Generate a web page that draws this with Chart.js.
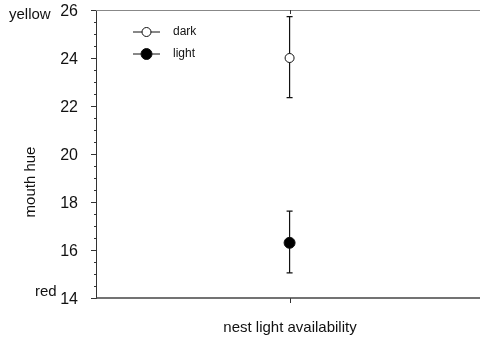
<!DOCTYPE html>
<html>
<head>
<meta charset="utf-8">
<script src="https://cdn.jsdelivr.net/npm/chart.js@4"></script>
<style>
  body { margin: 0; background: #fff; }
  #wrap { width: 480px; height: 343px; position: relative; }
</style>
</head>
<body>
<div id="wrap"><canvas id="chart"></canvas></div>
<script>
// values
const groups = ['dark', 'light'];
const xPos = [1, 1];
const means = [24.0, 16.3];
const errLow = [22.35, 15.05];
const errHigh = [25.72, 17.62];
const yMin = 14, yMax = 26;
const minorStep = 0.5;
const xTickValues = [1];

const FONT = 'Arial, "Liberation Sans", sans-serif';

// error bars, minor ticks, legend and side labels
const extras = {
    id: 'extras',
    beforeDatasetsDraw(chart) {
        const ctx = chart.ctx;
        const x = chart.scales.x, y = chart.scales.y;
        const area = chart.chartArea;
        ctx.save();
        ctx.strokeStyle = '#111';
        ctx.lineWidth = 1.2;
        for (let i = 0; i < groups.length; i++) {
            const px = x.getPixelForValue(xPos[i]);
            const top = y.getPixelForValue(errHigh[i]);
            const bot = y.getPixelForValue(errLow[i]);
            ctx.beginPath();
            ctx.moveTo(px, top); ctx.lineTo(px, bot);
            ctx.moveTo(px - 3, top); ctx.lineTo(px + 3, top);
            ctx.moveTo(px - 3, bot); ctx.lineTo(px + 3, bot);
            ctx.stroke();
        }
        // top frame line
        ctx.strokeStyle = '#888';
        ctx.lineWidth = 1;
        ctx.beginPath();
        ctx.moveTo(area.left, area.top + 0.5);
        ctx.lineTo(480, area.top + 0.5);
        ctx.stroke();
        // y ticks (major outward, minor short)
        ctx.strokeStyle = '#333';
        for (let v = yMin; v <= yMax + 1e-9; v += minorStep) {
            const py = Math.round(y.getPixelForValue(v)) + 0.5;
            const major = Math.abs(v % 2) < 1e-9;
            ctx.beginPath();
            ctx.moveTo(area.left - (major ? 5 : 2), py);
            ctx.lineTo(area.left, py);
            ctx.stroke();
        }
        // x ticks
        xTickValues.forEach(v => {
            const px = Math.round(x.getPixelForValue(v)) + 0.5;
            ctx.beginPath();
            ctx.moveTo(px, area.bottom); ctx.lineTo(px, area.bottom + 5);
            ctx.moveTo(px, area.top); ctx.lineTo(px, area.top + 4);
            ctx.stroke();
        });
        // bottom axis line to the edge
        ctx.strokeStyle = '#444';
        ctx.lineWidth = 1.5;
        ctx.beginPath();
        ctx.moveTo(area.left, area.bottom);
        ctx.lineTo(480, area.bottom);
        ctx.stroke();
        ctx.restore();
    },
    afterDraw(chart) {
        const ctx = chart.ctx;
        const y = chart.scales.y;
        ctx.save();
        ctx.fillStyle = '#111';
        ctx.textBaseline = 'middle';
        // side labels
        ctx.font = '15px ' + FONT;
        ctx.textAlign = 'left';
        ctx.fillText('yellow', 9, y.getPixelForValue(yMax) + 5);
        ctx.fillText('red', 35, y.getPixelForValue(yMin) - 6);
        // axis titles
        ctx.textAlign = 'center';
        ctx.fillText('nest light availability', 290, 328);
        ctx.save();
        ctx.translate(31, 182);
        ctx.rotate(-Math.PI / 2);
        ctx.fillText('mouth hue', 0, 0);
        ctx.restore();
        // legend
        const ds = chart.data.datasets;
        ctx.font = '12px ' + FONT;
        ctx.textAlign = 'left';
        ds.forEach((d, i) => {
            const ly = 32 + i * 22;
            ctx.strokeStyle = '#111';
            ctx.lineWidth = 1;
            ctx.beginPath();
            ctx.moveTo(133, ly); ctx.lineTo(160, ly);
            ctx.stroke();
            ctx.beginPath();
            ctx.arc(146.5, ly, d.pointRadius, 0, Math.PI * 2);
            ctx.fillStyle = d.pointBackgroundColor;
            ctx.fill();
            ctx.stroke();
            ctx.fillStyle = '#111';
            ctx.fillText(d.label, 173, ly);
        });
        ctx.restore();
    }
};

new Chart(document.getElementById('chart'), {
    type: 'scatter',
    data: {
        datasets: groups.map((g, i) => ({
            label: g,
            data: [{ x: xPos[i], y: means[i] }],
            pointRadius: i === 0 ? 4.5 : 5.5,
            pointBackgroundColor: i === 0 ? '#fff' : '#000',
            pointBorderColor: '#111',
            pointBorderWidth: 1
        }))
    },
    options: {
        responsive: true,
        maintainAspectRatio: false,
        animation: false,
        layout: { padding: { top: 10, right: 0, left: 0, bottom: 0 } },
        plugins: { legend: { display: false }, tooltip: { enabled: false } },
        scales: {
            x: {
                type: 'linear', min: 0, max: 1.95,
                grid: { display: false },
                border: { display: false },
                ticks: { display: false },
                afterFit(s) {
                    s.height = 45;
                    s.paddingLeft = 0; s.paddingRight = 0;
                }
            },
            y: {
                min: yMin, max: yMax,
                grid: { display: false },
                border: { color: '#333', width: 1 },
                ticks: {
                    stepSize: 2,
                    padding: 10,
                    labelOffset: 2,
                    color: '#111',
                    font: { family: FONT, size: 16 }
                },
                afterFit(s) {
                    s.width = 96;
                    s.paddingTop = 0; s.paddingBottom = 0;
                }
            }
        }
    },
    plugins: [extras]
});
</script>
</body>
</html>
